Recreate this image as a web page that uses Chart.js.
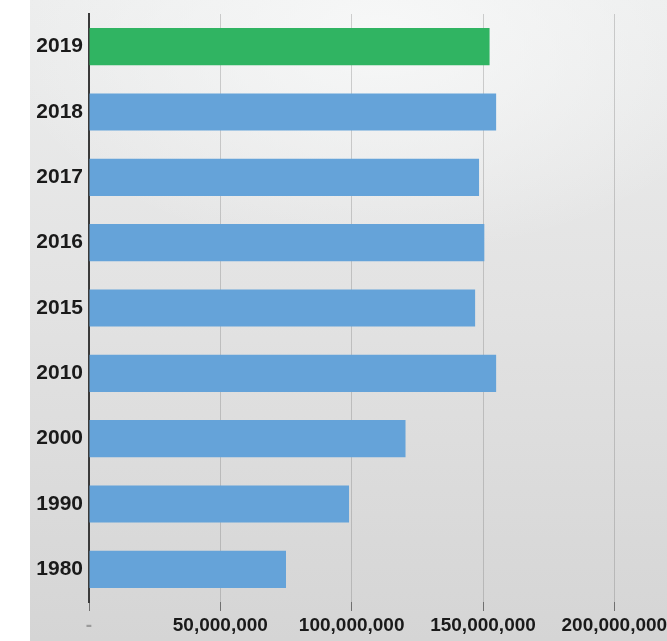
<!DOCTYPE html>
<html>
<head>
<meta charset="utf-8">
<script src="https://cdn.jsdelivr.net/npm/chart.js@4"></script>
<style>
  html, body { margin: 0; padding: 0; background: #ffffff; }
  #wrap {
    position: relative;
    width: 667px;
    height: 641px;
    overflow: hidden;
  }
  #bg {
    position: absolute;
    left: 30px;
    top: 0;
    width: 637px;
    height: 641px;
    background:
      radial-gradient(ellipse 60% 35% at 55% 5%, rgba(248, 249, 249, 0.9) 0%, rgba(248, 249, 249, 0) 100%),
      linear-gradient(to bottom, #eceded 0%, #e3e3e3 45%, #d5d5d5 100%);
  }
  #chart { position: absolute; left: 0; top: 0; }
</style>
</head>
<body>
<div id="wrap">
  <div id="bg"></div>
  <canvas id="chart" width="680" height="641"></canvas>
</div>
<script>
const years = ["2019", "2018", "2017", "2016", "2015", "2010", "2000", "1990", "1980"];
const values = [152500000, 155000000, 148500000, 150500000, 147000000, 155000000, 120500000, 99000000, 75000000];
const barColors = ["#30b462", "#65a3d9", "#65a3d9", "#65a3d9", "#65a3d9", "#65a3d9", "#65a3d9", "#65a3d9", "#65a3d9"];
const tickStep = 50000000;
const axisMax = 225000000;

const fontFamily = "'Liberation Sans', Arial, sans-serif";

new Chart(document.querySelector("#chart"), {
  type: "bar",
  data: {
    labels: years,
    datasets: [
      {
        data: values,
        backgroundColor: barColors,
        borderWidth: 0,
        barPercentage: 0.57,
        categoryPercentage: 1
      }
    ]
  },
  options: {
    indexAxis: "y",
    responsive: false,
    animation: false,
    layout: { padding: { top: 14, left: 0, right: 0, bottom: 0 } },
    plugins: {
      legend: { display: false },
      tooltip: { enabled: false }
    },
    scales: {
      x: {
        type: "linear",
        min: 0,
        max: axisMax,
        afterBuildTicks: (scale) => {
          const t = [];
          for (let v = 0; v <= axisMax; v += tickStep) t.push({ value: v });
          scale.ticks = t;
        },
        afterFit: (scale) => {
          scale.height = 39;
        },
        ticks: {
          maxRotation: 0,
          autoSkip: false,
          padding: 3,
          color: (ctx) => (ctx.tick && ctx.tick.value === 0 ? "#9a9a9a" : "#1a1a1a"),
          font: { family: fontFamily, size: 19, weight: "bold" },
          callback: (value) => (value === 0 ? "-" : Number(value).toLocaleString("en-US"))
        },
        grid: {
          color: (ctx) => (ctx.tick && ctx.tick.value === 0 ? "rgba(0,0,0,0)" : "rgba(110, 110, 110, 0.3)"),
          tickColor: "#6f6f6f",
          tickLength: 9,
          lineWidth: 1
        },
        border: { display: false }
      },
      y: {
        afterFit: (scale) => {
          scale.width = 89;
        },
        ticks: {
          color: "#1a1a1a",
          font: { family: fontFamily, size: 21, weight: "bold" },
          padding: -2
        },
        grid: { display: false },
        border: { display: true, color: "#3a3a3a", width: 2 }
      }
    }
  }
});
</script>
</body>
</html>
